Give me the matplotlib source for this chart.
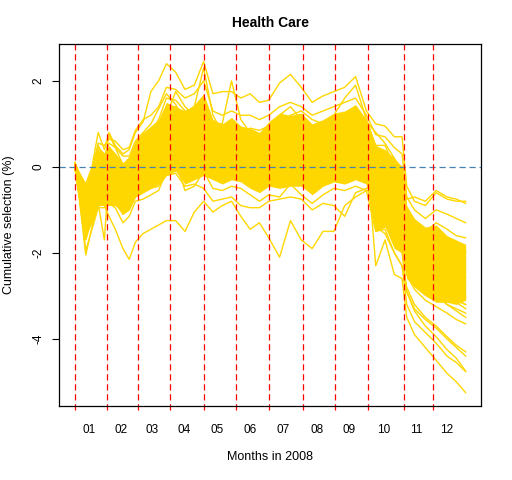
import matplotlib
matplotlib.use("Agg")
import matplotlib.pyplot as plt

plt.rcParams['font.family'] = ['Liberation Sans', 'DejaVu Sans']

# trading-day index (0 = 2 Jan 2008) of the sampled points
days = [0, 3, 7, 11, 15, 19, 22, 26, 31, 35, 39, 44, 49, 54, 59, 65, 71, 77, 83, 89,
        95, 101, 107, 113, 119, 125, 132, 139, 146, 153, 160, 167, 174, 181, 188, 194,
        200, 206, 211, 214, 219, 226, 233, 240, 246, 252]

# first trading day of each month
month_starts = [0, 21, 41, 61, 83, 104, 125, 147, 168, 189, 212, 231]
month_labels = ['01', '02', '03', '04', '05', '06', '07', '08', '09', '10', '11', '12']

# where the many overlapping curves make a solid band
core_hi = [0.05, -0.2, -0.4, 0.0, 0.4, 0.3, 0.5, 0.3, 0.1, 0.25, 0.6, 0.8, 0.95, 1.1, 1.5, 1.4, 1.3, 1.45, 1.7, 1.1,
           1.0, 1.15, 0.95, 0.9, 0.8, 1.05, 1.25, 1.2, 1.25, 1.0, 1.1, 1.25, 1.3, 1.45, 1.1, 0.5, 0.4, 0.2, 0.0, -0.9,
           -1.2, -1.4, -1.35, -1.6, -1.7, -1.8]
core_lo = [-0.05, -0.6, -1.6, -1.3, -0.9, -0.9, -0.9, -0.9, -1.1, -1.0, -0.7, -0.6, -0.5, -0.4, -0.2, -0.1, -0.4, -0.3, -0.2, -0.3,
           -0.4, -0.3, -0.35, -0.5, -0.6, -0.45, -0.5, -0.45, -0.45, -0.65, -0.45, -0.35, -0.4, -0.3, -0.4, -1.5, -1.4, -1.9, -2.0, -2.6,
           -2.8, -3.0, -3.15, -3.15, -3.2, -3.1]

# cumulative selection (%) of individual portfolios
hc01 = [0.05, -0.15, -0.4, 0.0, 0.8, 0.4, 0.8, 0.5, 0.3, 0.4, 0.8, 1.05, 1.75, 2.0, 2.4, 2.2, 1.8, 1.9, 2.45, 1.7,
        1.75, 1.75, 1.6, 1.7, 1.5, 1.55, 1.95, 2.15, 1.85, 1.5, 1.65, 1.75, 1.85, 2.1, 1.3, 1.0, 0.95, 0.7, 0.7, -0.45,
        -0.8, -0.9, -0.6, -0.75, -0.8, -0.8]
hc02 = [0.0, -0.2, -0.55, -0.1, 0.55, 0.5, 0.65, 0.6, 0.4, 0.45, 0.85, 1.1, 1.2, 1.4, 1.85, 1.8, 1.6, 1.7, 2.0, 1.3,
        1.2, 1.3, 1.2, 1.2, 1.1, 1.2, 1.4, 1.5, 1.4, 1.2, 1.3, 1.4, 1.5, 1.6, 1.2, 0.75, 0.7, 0.45, 0.3, -0.7,
        -1.0, -1.2, -1.0, -1.1, -1.2, -1.3]
hc03 = [0.05, -0.25, -0.65, -0.2, 0.4, 0.15, 0.45, 0.3, 0.05, 0.15, 0.5, 0.75, 0.85, 1.0, 1.4, 1.4, 1.15, 1.3, 1.55, 0.95,
        0.85, 0.95, 0.85, 0.8, 0.7, 0.85, 1.0, 1.05, 0.95, 0.8, 0.9, 1.05, 1.1, 1.2, 0.9, 0.3, 0.25, 0.0, -0.3, -1.1,
        -1.4, -1.6, -1.5, -1.7, -1.85, -1.95]
hc04 = [0.0, -0.3, -0.8, -0.4, 0.3, 0.0, 0.3, 0.1, -0.15, -0.05, 0.35, 0.55, 0.6, 0.8, 1.15, 1.15, 0.95, 1.05, 1.3, 0.75,
        0.65, 0.75, 0.7, 0.6, 0.5, 0.65, 0.75, 0.85, 0.8, 0.55, 0.7, 0.8, 0.85, 0.95, 0.7, -0.2, -0.3, -0.6, -0.8, -1.7,
        -2.0, -2.3, -2.2, -2.4, -2.6, -2.7]
hc05 = [0.05, -0.35, -1.0, -0.6, 0.05, -0.15, 0.1, -0.05, -0.3, -0.2, 0.2, 0.35, 0.45, 0.6, 0.95, 0.95, 0.55, 0.95, 1.05, 0.55,
        0.5, 0.6, 0.5, 0.45, 0.35, 0.45, 0.7, 0.5, 0.55, 0.4, 0.5, 0.65, 0.65, 0.8, 0.55, 0.0, -0.1, -0.4, -0.6, -1.5,
        -1.8, -2.0, -1.9, -2.1, -2.25, -2.35]
hc06 = [0.0, -0.45, -1.15, -0.75, -0.1, -0.25, -0.05, -0.2, -0.5, -0.35, 0.0, 0.15, 0.4, 0.3, 0.7, 0.75, 0.5, 0.6, 0.8, 0.4,
        0.45, 0.25, 0.35, 0.25, 0.15, 0.25, 0.35, 0.4, 0.35, 0.15, 0.3, 0.45, 0.45, 0.55, 0.35, -0.5, -0.5, -0.9, -1.15, -1.95,
        -2.3, -2.5, -2.5, -2.75, -2.9, -3.05]
hc07 = [0.05, -0.5, -1.3, -0.85, -0.25, -0.4, -0.2, -0.35, -0.65, -0.4, -0.15, 0.0, 0.05, 0.2, 0.5, 0.75, 0.2, 0.4, 0.55, 0.2,
        0.1, 0.2, 0.15, 0.05, -0.05, 0.05, 0.1, 0.2, 0.15, -0.05, 0.1, 0.25, 0.25, 0.35, 0.15, -0.75, -0.75, -1.2, -1.45, -2.3,
        -2.65, -2.9, -2.95, -3.2, -3.35, -3.5]
hc08 = [0.0, -0.6, -1.5, -1.0, -0.45, -0.55, -0.4, -0.5, -0.85, -0.7, -0.35, -0.25, -0.15, 0.0, 0.25, 0.35, 0.05, 0.15, 0.3, 0.0,
        -0.05, 0.05, 0.15, -0.25, -0.25, -0.15, -0.1, -0.05, -0.05, -0.1, -0.1, 0.05, 0.05, 0.15, 0.0, -1.0, -1.0, -1.45, -1.75, -2.4,
        -2.75, -2.95, -3.0, -3.2, -3.3, -3.4]
hc09 = [0.05, -0.65, -1.65, -1.2, -0.65, -0.7, -0.55, -0.7, -1.0, -0.9, -0.5, -0.45, -0.35, -0.2, 0.05, 0.1, -0.15, -0.05, 0.1, -0.2,
        -0.25, -0.15, -0.2, -0.3, -0.45, -0.35, -0.3, -0.25, -0.3, -0.45, -0.3, -0.15, -0.2, -0.1, -0.2, -1.3, -1.25, -1.75, -2.0, -2.9,
        -3.3, -3.55, -3.75, -4.0, -4.2, -4.4]
hc10 = [0.0, -0.75, -1.95, -1.45, -0.95, -0.95, -0.85, -0.95, -1.3, -1.15, -0.8, -0.75, -0.65, -0.55, -0.1, 0.1, -0.55, -0.45, -0.1, -0.5,
        -0.55, -0.45, -0.5, -0.65, -0.8, -0.65, -0.7, -0.4, -0.65, -0.85, -0.65, -0.5, -0.55, -0.45, -0.55, -1.5, -1.45, -2.0, -2.3, -3.2,
        -3.6, -3.85, -4.1, -4.4, -4.55, -4.76]
hc11 = [0.1, -0.2, -0.6, -0.15, 0.5, 0.2, 0.4, 0.1, -0.3, -0.4, -0.2, -0.3, -0.2, 0.0, 0.3, 0.5, 0.4, 0.6, 0.95, 0.6,
        0.6, 0.8, 0.8, 0.9, 0.85, 0.95, 1.05, 1.0, 0.85, 0.55, 0.6, 0.6, 0.55, 0.55, 0.4, 0.2, 0.0, -0.35, -0.55, -1.5,
        -1.9, -2.2, -2.1, -2.3, -2.45, -2.55]
hc12 = [-0.05, -0.7, -1.7, -1.2, -0.5, -0.5, -0.3, -0.3, -0.45, -0.2, 0.25, 0.55, 0.8, 1.1, 1.6, 1.55, 1.3, 1.35, 1.6, 1.0,
        0.85, 0.8, 0.6, 0.45, 0.2, 0.2, 0.15, 0.2, 0.3, 0.3, 0.5, 0.7, 0.8, 1.0, 0.75, -0.6, -0.8, -1.5, -1.9, -2.9,
        -3.35, -3.7, -3.95, -4.25, -4.45, -4.75]
hc13 = [0.0, -0.45, -1.1, -0.7, -0.05, -0.2, 0.1, 0.0, -0.3, -0.3, -0.2, -0.1, 0.0, 0.15, 0.4, 0.4, 0.15, 0.3, 0.4, 0.1,
        0.05, 0.15, 0.1, 0.1, 0.0, 0.15, 0.3, 0.4, 0.35, 0.2, 0.35, 0.4, 0.5, 0.55, 0.4, -2.3, -1.7, -2.5, -2.6, -3.5,
        -3.9, -4.2, -4.5, -4.8, -5.0, -5.25]
hc14 = [0.0, -0.8, -2.05, -1.4, -0.85, -1.7, -0.1, -0.3, -0.5, -0.3, 0.2, 0.4, 0.5, 0.55, 0.85, 0.8, 0.45, 0.5, 0.75, 0.3,
        0.2, 0.2, 0.1, -0.05, -0.2, -0.1, -0.2, -0.15, -0.2, -0.45, -0.3, -0.2, -0.15, -0.1, -0.15, 0.3, 0.2, 0.1, 0.0, -0.75,
        -0.7, -0.8, -0.55, -0.7, -0.75, -0.85]
hc15 = [0.0, -0.55, -1.4, -1.0, -0.5, -0.9, -1.15, -1.45, -1.9, -2.15, -1.75, -1.55, -1.45, -1.35, -1.25, -1.25, -1.5, -1.05, -0.8, -1.05,
        -0.9, -0.8, -1.15, -1.45, -1.3, -1.65, -2.1, -1.25, -1.7, -1.9, -1.5, -1.5, -0.9, -0.7, -0.55, -0.6, -0.7, -1.1, -1.3, -2.1,
        -2.4, -2.7, -2.7, -2.9, -3.1, -3.2]
hc16 = [0.05, -0.5, -1.25, -0.9, -0.3, -0.6, -0.6, -0.75, -1.1, -1.0, -0.7, -0.6, -0.5, -0.45, -0.2, -0.15, -0.45, -0.4, -0.5, -0.8,
        -0.75, -0.7, -0.9, -0.95, -0.95, -0.8, -0.75, -0.7, -0.75, -1.0, -0.85, -0.9, -1.15, -0.6, -0.5, -0.3, -0.4, -0.5, -0.8, -1.3,
        -1.6, -1.8, -1.6, -1.8, -1.95, -2.0]
hc17 = [0.0, -0.3, -0.9, -0.5, 0.2, 0.1, 0.75, 0.45, 0.05, 0.0, 0.1, 0.25, 0.4, 0.7, 1.2, 1.75, 1.4, 1.2, 1.0, 0.45,
        0.35, 0.5, 0.4, 0.45, 0.5, 0.8, 1.2, 1.4, 1.1, 0.7, 0.55, 0.45, 0.3, 0.25, 0.1, -0.7, -0.8, -1.3, -1.6, -2.5,
        -2.85, -3.1, -3.25, -3.4, -3.55, -3.65]
hc18 = [0.1, -0.15, -0.5, -0.1, 0.45, 0.3, -0.3, -0.5, -0.8, -0.5, 0.35, 0.6, 0.7, 0.8, 0.9, 0.6, 0.0, 0.0, 0.2, 0.05,
        0.05, 0.3, 0.55, 0.65, 0.55, 0.6, 0.5, 0.3, 0.2, 0.3, 0.8, 1.05, 1.2, 1.25, 1.05, 0.8, 0.55, 0.2, -0.1, -1.0,
        -1.3, -1.5, -1.3, -1.45, -1.6, -1.65]
hc19 = [0.0, -0.55, -1.45, -1.0, -0.35, -0.75, -0.6, -0.8, -1.1, -0.8, -0.3, -0.1, 0.05, 0.3, 0.9, 0.95, 0.7, 1.0, 1.5, 1.0,
        1.0, 2.0, 1.1, 0.8, 0.5, 0.4, 0.45, 0.3, 0.0, -0.2, -0.05, 0.3, 0.6, 0.75, 0.55, -1.1, -1.0, -1.6, -1.9, -2.3,
        -2.6, -2.85, -2.9, -3.0, -3.15, -3.3]
hc20 = [0.05, -0.25, -0.7, -0.35, 0.35, 0.25, 0.55, 0.45, 0.25, 0.25, 0.6, 0.8, 1.0, 1.35, 1.7, 1.45, 1.05, 1.4, 2.3, 1.2,
        0.8, 0.5, 0.2, -0.05, -0.45, -0.4, -0.4, -0.3, 0.2, 0.25, 0.6, 1.2, 1.6, 1.9, 1.1, 0.5, 0.5, 0.0, -0.35, -1.3,
        -1.7, -2.0, -2.0, -2.2, -2.35, -2.45]
hc21 = [-0.05, -0.5, -1.2, -0.8, -0.15, -0.15, 0.3, 0.2, -0.1, -0.2, -0.3, -0.25, -0.1, 0.05, 0.3, 0.3, 0.1, 0.3, 0.7, 0.4,
        0.1, -0.1, -0.15, -0.2, 0.1, 0.5, 0.7, 0.75, 0.4, 0.1, 0.1, 0.1, 0.0, 0.1, 0.0, -0.9, -0.85, -1.35, -1.6, -2.2,
        -2.5, -2.7, -2.65, -2.8, -2.95, -3.0]
hc22 = [0.1, -0.25, -0.75, -0.3, 0.35, 0.1, -0.1, -0.3, -0.6, -0.3, 0.4, 0.7, 0.9, 1.05, 1.1, 0.6, 0.2, 0.1, 0.0, -0.15,
        -0.1, 0.2, 0.5, 0.4, 0.3, 0.25, 0.3, 0.6, 0.9, 0.7, 0.75, 0.6, 0.55, 0.65, 0.5, 0.1, 0.1, -0.15, -0.4, -1.2,
        -1.55, -1.75, -1.7, -1.9, -2.1, -2.2]
hc23 = [0.0, -0.6, -1.6, -1.1, -0.55, -0.6, -0.35, -0.45, -0.8, -0.85, -0.55, -0.5, -0.35, -0.2, 0.3, 0.7, 0.55, 0.75, 1.1, 0.8,
        0.75, 0.9, 0.75, 0.85, 0.7, 0.7, 1.0, 1.2, 1.3, 1.1, 1.0, 1.05, 0.95, 0.9, 0.8, -0.4, -0.35, -0.75, -1.0, -2.2,
        -2.55, -2.8, -2.75, -2.95, -3.1, -3.2]
hc24 = [0.05, -0.4, -1.0, -0.55, 0.0, -0.2, 0.05, -0.1, -0.35, -0.25, 0.1, 0.25, 0.35, 0.55, 1.1, 1.35, 1.2, 1.1, 0.9, 0.5,
        0.4, 0.3, 0.25, 0.15, 0.2, 0.4, 0.55, 0.4, 0.0, -0.5, -0.35, -0.2, -0.25, -0.2, -0.3, -1.4, -1.55, -2.0, -2.3, -2.8,
        -3.2, -3.5, -3.7, -3.95, -4.15, -4.3]

series = [hc01, hc02, hc03, hc04, hc05, hc06, hc07, hc08, hc09, hc10, hc11, hc12,
          hc13, hc14, hc15, hc16, hc17, hc18, hc19, hc20, hc21, hc22, hc23, hc24]

fig = plt.figure(figsize=(5.12, 4.8), dpi=100)
ax = fig.add_axes([0.1158, 0.1542, 0.8242, 0.7535])

ax.fill_between(days, core_lo, core_hi, color='#FFD700', lw=0)
for s in series:
    ax.plot(days, s, color='#FFD700', lw=1.0)

ax.set_xlim(-10.08, 262.08)
ax.set_ylim(-5.56, 2.85)

dash = (0, (5, 3))
ax.axhline(0, color='#4682B4', lw=0.9, linestyle=dash)
ax.vlines(month_starts, -5.65, 2.85, colors='red', linestyles=[dash], lw=0.9, clip_on=False)

ends = month_starts[1:] + [252]
mids = [(a + b) / 2 - 1.5 for a, b in zip(month_starts, ends)]
ax.set_xticks(mids)
ax.set_xticklabels(month_labels, fontsize=8.5)
ax.tick_params(axis='x', length=0, pad=13)

ax.set_yticks([-4, -2, 0, 2])
ax.set_yticklabels(['-4', '-2', '0', '2'], fontsize=8.5, rotation=90, va='center')
ax.tick_params(axis='y', length=5, pad=6, width=0.8)

for sp in ax.spines.values():
    sp.set_linewidth(0.9)

fig.text(0.5274, 1 - 22.7 / 480, 'Health Care', ha='center', va='center',
         fontsize=10, fontweight='bold')
fig.text(0.5274, 1 - 457 / 480, 'Months in 2008', ha='center', va='center', fontsize=9)
fig.text(9.5 / 512, 1 - 225 / 480, 'Cumulative selection (%)', ha='center', va='center',
         rotation=90, fontsize=9)

plt.savefig('out.png', dpi=100)
plt.close()
